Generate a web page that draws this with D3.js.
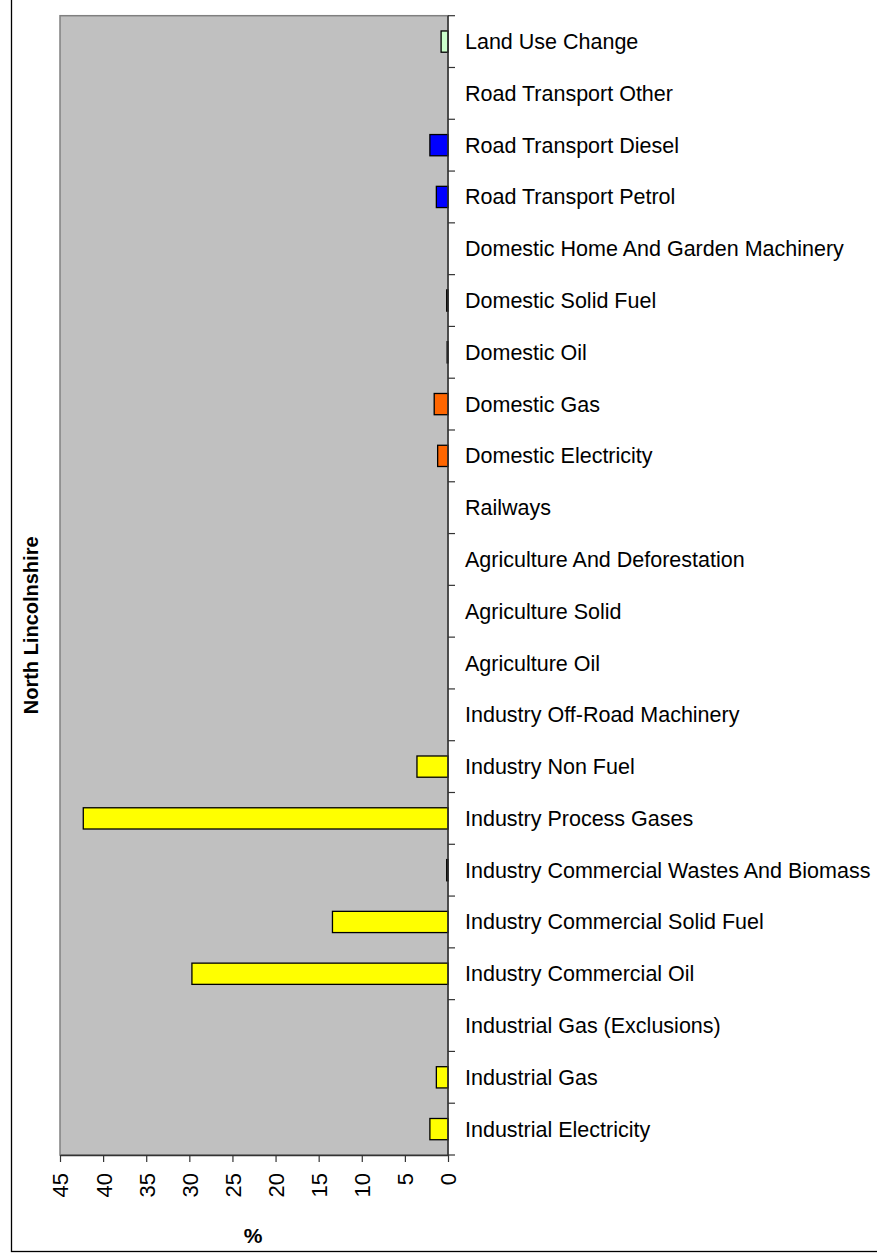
<!DOCTYPE html>
<html>
<head>
<meta charset="utf-8">
<script src="https://cdn.jsdelivr.net/npm/d3@7"></script>
<style>
  html, body { margin: 0; padding: 0; background: #fff; }
  svg { display: block; font-family: "Liberation Sans", Arial, sans-serif; }
</style>
</head>
<body>
<svg id="chart"></svg>
<script>
// categories, top to bottom as drawn
const categories = [
    "Land Use Change",
    "Road Transport Other",
    "Road Transport Diesel",
    "Road Transport Petrol",
    "Domestic Home And Garden Machinery",
    "Domestic Solid Fuel",
    "Domestic Oil",
    "Domestic Gas",
    "Domestic Electricity",
    "Railways",
    "Agriculture And Deforestation",
    "Agriculture Solid",
    "Agriculture Oil",
    "Industry Off-Road Machinery",
    "Industry Non Fuel",
    "Industry Process Gases",
    "Industry Commercial Wastes And Biomass",
    "Industry Commercial Solid Fuel",
    "Industry Commercial Oil",
    "Industrial Gas (Exclusions)",
    "Industrial Gas",
    "Industrial Electricity"
];
const values = [0.8, 0, 2.1, 1.35, 0, 0.15, 0.1, 1.6, 1.2, 0, 0, 0, 0, 0, 3.6, 42.3, 0.15, 13.4, 29.7, 0, 1.35, 2.1];
const sectors = ["land", "road", "road", "road", "domestic", "domestic", "domestic", "domestic", "domestic",
    "rail", "agri", "agri", "agri", "industry", "industry", "industry", "industry", "industry", "industry",
    "industry", "industry", "industry"];
const xTicks = [0, 5, 10, 15, 20, 25, 30, 35, 40, 45];
const regionName = "North Lincolnshire";
const xTitle = "%";

const width = 877, height = 1257;
const plot = { left: 60, right: 448, top: 15.7, bottom: 1155 };

const svg = d3.select("#chart")
    .attr("width", width)
    .attr("height", height);

const color = d3.scaleOrdinal()
    .domain(["land", "road", "domestic", "rail", "agri", "industry"])
    .range(["#ccffcc", "#0000ff", "#ff6600", "#999999", "#00cc00", "#ffff00"]);

const x = d3.scaleLinear().domain([0, 45]).range([plot.right, plot.left]);
const y = d3.scaleBand()
    .domain(categories)
    .range([plot.top, plot.bottom])
    .paddingInner(0.59)
    .paddingOuter(0.295);

const data = categories.map((c, i) => ({ cat: c, value: values[i], sector: sectors[i] }));

// outer frame (runs past the window on top and right)
svg.append("rect")
    .attr("x", 11.5).attr("y", -10)
    .attr("width", 900).attr("height", 1251.5 + 10)
    .attr("fill", "none")
    .attr("stroke", "#000")
    .attr("stroke-width", 1.3);

// plot background
svg.append("rect")
    .attr("x", plot.left).attr("y", plot.top)
    .attr("width", plot.right - plot.left)
    .attr("height", plot.bottom - plot.top)
    .attr("fill", "#c0c0c0")
    .attr("stroke", "#808080")
    .attr("stroke-width", 1.5);

// bars
svg.append("g")
    .selectAll("rect")
    .data(data.filter(d => d.value > 0))
    .join("rect")
    .attr("x", d => x(d.value))
    .attr("y", d => y(d.cat))
    .attr("width", d => x(0) - x(d.value))
    .attr("height", y.bandwidth())
    .attr("fill", d => color(d.sector))
    .attr("stroke", "#000")
    .attr("stroke-width", 1.3);

// category axis on the right
const step = y.step();
const bounds = d3.range(categories.length + 1).map(i => plot.top + i * step);

const rightAxis = svg.append("g");
rightAxis.append("line")
    .attr("x1", plot.right).attr("x2", plot.right)
    .attr("y1", plot.top).attr("y2", plot.bottom)
    .attr("stroke", "#333").attr("stroke-width", 1.5);
rightAxis.selectAll("line.tick")
    .data(bounds)
    .join("line")
    .attr("class", "tick")
    .attr("x1", plot.right).attr("x2", plot.right + 7)
    .attr("y1", d => d).attr("y2", d => d)
    .attr("stroke", "#333").attr("stroke-width", 1.2);
rightAxis.selectAll("text")
    .data(categories)
    .join("text")
    .attr("x", 465)
    .attr("y", d => y(d) + y.bandwidth() / 2 + 7.5)
    .attr("font-size", "21.5px")
    .attr("fill", "#000")
    .text(d => d);

// value axis at the bottom
const bottomAxis = svg.append("g")
    .attr("transform", `translate(0,${plot.bottom})`)
    .call(d3.axisBottom(x).tickValues(xTicks).tickSize(7).tickSizeOuter(0));
bottomAxis.select(".domain").attr("stroke", "#333").attr("stroke-width", 1.5);
bottomAxis.selectAll(".tick line").attr("stroke", "#333").attr("stroke-width", 1.2);
bottomAxis.selectAll(".tick text")
    .attr("font-size", "22px")
    .attr("font-family", "Liberation Sans, Arial, sans-serif")
    .attr("fill", "#000")
    .attr("text-anchor", "end")
    .attr("transform", "rotate(-90)")
    .attr("x", -18)
    .attr("y", 0)
    .attr("dy", "0.36em");

// titles
svg.append("text")
    .attr("transform", `translate(38,${(plot.top + plot.bottom) / 2 + 40}) rotate(-90)`)
    .attr("text-anchor", "middle")
    .attr("font-size", "20px")
    .attr("font-weight", "bold")
    .text(regionName);

svg.append("text")
    .attr("x", 253)
    .attr("y", 1243)
    .attr("text-anchor", "middle")
    .attr("font-size", "21px")
    .attr("font-weight", "bold")
    .text(xTitle);
</script>
</body>
</html>
